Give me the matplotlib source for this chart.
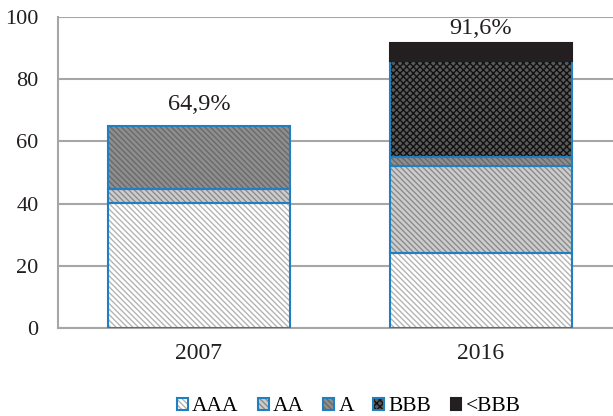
import numpy as np
import matplotlib
matplotlib.use("Agg")
import matplotlib.pyplot as plt
import matplotlib.patches as mpatches

plt.rcParams["font.family"] = ["Liberation Serif", "DejaVu Serif"]
plt.rcParams["hatch.linewidth"] = 1.0

annees = ["2007", "2016"]
notes = ["AAA", "AA", "A", "BBB", "<BBB"]
aaa = [40.3, 24.0]
aa = [4.5, 28.0]
a = [20.1, 3.0]
bbb = [0.0, 31.0]
sous_bbb = [0.0, 5.6]
totaux = ["64,9%", "91,6%"]

series = [aaa, aa, a, bbb, sous_bbb]
# fond, couleur des hachures, motif, bord
styles = [
    ("#ffffff", "#b4b4b4", "\\" * 6, "#1f7fc0"),
    ("#cdcdcd", "#8c8c8c", "\\" * 6, "#1f7fc0"),
    ("#8e8e8e", "#6a6a6a", "\\" * 6, "#1f7fc0"),
    ("#5a5a5a", "#111111", "xxxxx", "#1f7fc0"),
    ("#231f20", "#231f20", "", "#231f20"),
]

fig = plt.figure(figsize=(6.13, 4.16), dpi=100)
ax = fig.add_axes([0.0946, 0.2115, 0.9054, 0.7475])

x = np.arange(len(annees))
largeur = 0.645
bas = np.zeros(len(annees))
handles = []
for vals, (fc, hc, hatch, ec) in zip(series, styles):
    vals = np.array(vals)
    mask = vals > 0
    ax.bar(x[mask], vals[mask], largeur, bottom=bas[mask], color=fc,
           edgecolor=hc, hatch=hatch, linewidth=0, zorder=3)
    ax.bar(x[mask], vals[mask], largeur, bottom=bas[mask], fill=False,
           edgecolor=ec, linewidth=1.5, zorder=4)
    bas += vals
    p1 = mpatches.Patch(facecolor=fc, edgecolor=hc, hatch=hatch, linewidth=0)
    p2 = mpatches.Patch(fill=False, edgecolor=ec, linewidth=1.5)
    handles.append((p1, p2))

# décalage des étiquettes (en points) au-dessus des barres
decalages = [8, 3]
for xi, tot, lab, d in zip(x, bas, totaux, decalages):
    ax.annotate(lab, (xi, tot), xytext=(0, d), textcoords="offset points",
                ha="center", va="bottom", fontsize=17.5, color="#231f20")

ax.set_ylim(0, 100)
ax.set_xlim(-0.5, 1.468)
ax.set_yticks(range(0, 101, 20))
ax.set_xticks(x)
ax.set_xticklabels(annees)
ax.tick_params(length=0, colors="#231f20")
ax.tick_params(axis="y", pad=14, labelsize=16)
ax.tick_params(axis="x", pad=11, labelsize=17)
ax.yaxis.grid(True, color="#a6a6a6", linewidth=1.5, zorder=0)
ax.set_axisbelow(True)
for s in ["top", "right"]:
    ax.spines[s].set_visible(False)
for s in ["left", "bottom"]:
    ax.spines[s].set_color("#a6a6a6")
    ax.spines[s].set_linewidth(1.5)

fig.legend(handles, notes, loc="center", bbox_to_anchor=(0.569, 0.022),
           ncol=5, frameon=False, fontsize=15.5, handlelength=0.5,
           handleheight=0.5, handletextpad=0.2, columnspacing=0.9)

fig.savefig("out.png", dpi=100)
